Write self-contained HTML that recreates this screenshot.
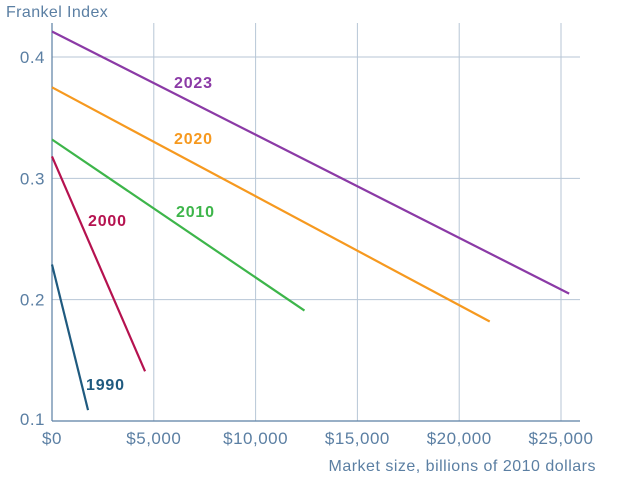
<!DOCTYPE html>
<html><head><meta charset="utf-8"><style>
body{margin:0;background:#fff}
svg{display:block;font-family:"Liberation Sans",sans-serif}
</style></head><body>
<svg id="c" width="618" height="478"></svg>
<script>
const xTicks=[0,5000,10000,15000,20000,25000];
const xTickLabels=["$0","$5,000","$10,000","$15,000","$20,000","$25,000"];
const yTicks=[0.1,0.2,0.3,0.4];
const yTickLabels=["0.1","0.2","0.3","0.4"];
const seriesNames=["1990","2000","2010","2020","2023"];
const startX=[0,0,0,0,0];
const startY=[0.229,0.318,0.332,0.375,0.421];
const endX=[1770,4570,12400,21500,25400];
const endY=[0.109,0.141,0.191,0.182,0.205];
const colors=["#1f5a7f","#b5124f","#3db54a","#f6991f","#8b3aa6"];
const labelPos=[[86,384],[88,220],[176,211],[174,138],[174,82]];

const X=v=>52+v*(509/25000);
const Y=v=>421-(v-0.1)*(364/0.3);
const svg=document.getElementById('c');
const NS='http://www.w3.org/2000/svg';
function mk(t,a,txt){const e=document.createElementNS(NS,t);for(const k in a)e.setAttribute(k,a[k]);if(txt!=null)e.textContent=txt;svg.appendChild(e);return e;}

yTicks.forEach((v,i)=>{
 if(i>0){const g=mk('line',{x1:52,x2:580,y1:Y(v),y2:Y(v),stroke:'#b7c6d6','stroke-width':1});
 
 }
 const t=mk('text',{x:45,y:Y(v)+(i==0?4:6),'text-anchor':'end','font-size':17,'letter-spacing':'0.5',fill:'#5b7fa3'},yTickLabels[i]);
 
 
});
xTicks.forEach((v,i)=>{
 if(i>0){const g=mk('line',{x1:X(v),x2:X(v),y1:23,y2:421,stroke:'#b7c6d6','stroke-width':1});
 
 }
 const t=mk('text',{x:X(v),y:444,'text-anchor':'middle','font-size':17,'letter-spacing':'0.5',fill:'#5b7fa3'},xTickLabels[i]);
 
 
});
let a=mk('line',{x1:52,x2:52,y1:23,y2:421,stroke:'#5b7fa3','stroke-width':1.2});


a=mk('line',{x1:52,x2:580,y1:421,y2:421,stroke:'#5b7fa3','stroke-width':1.2});



seriesNames.forEach((n,i)=>{
 const l=mk('line',{x1:X(startX[i]),y1:Y(startY[i]),x2:X(endX[i]),y2:Y(endY[i]),stroke:colors[i],'stroke-width':2.2});
 
 
 const t=mk('text',{x:labelPos[i][0],y:labelPos[i][1]+6,'font-size':16,'font-weight':'bold','letter-spacing':'0.8',fill:colors[i]},n);
 
 
});
let t=mk('text',{x:6,y:17,'font-size':16,'letter-spacing':'0.4',fill:'#5b7fa3'},'Frankel Index');


t=mk('text',{x:596,y:471,'text-anchor':'end','font-size':16,'letter-spacing':'0.5',fill:'#5b7fa3'},'Market size, billions of 2010 dollars');


</script>
</body></html>
